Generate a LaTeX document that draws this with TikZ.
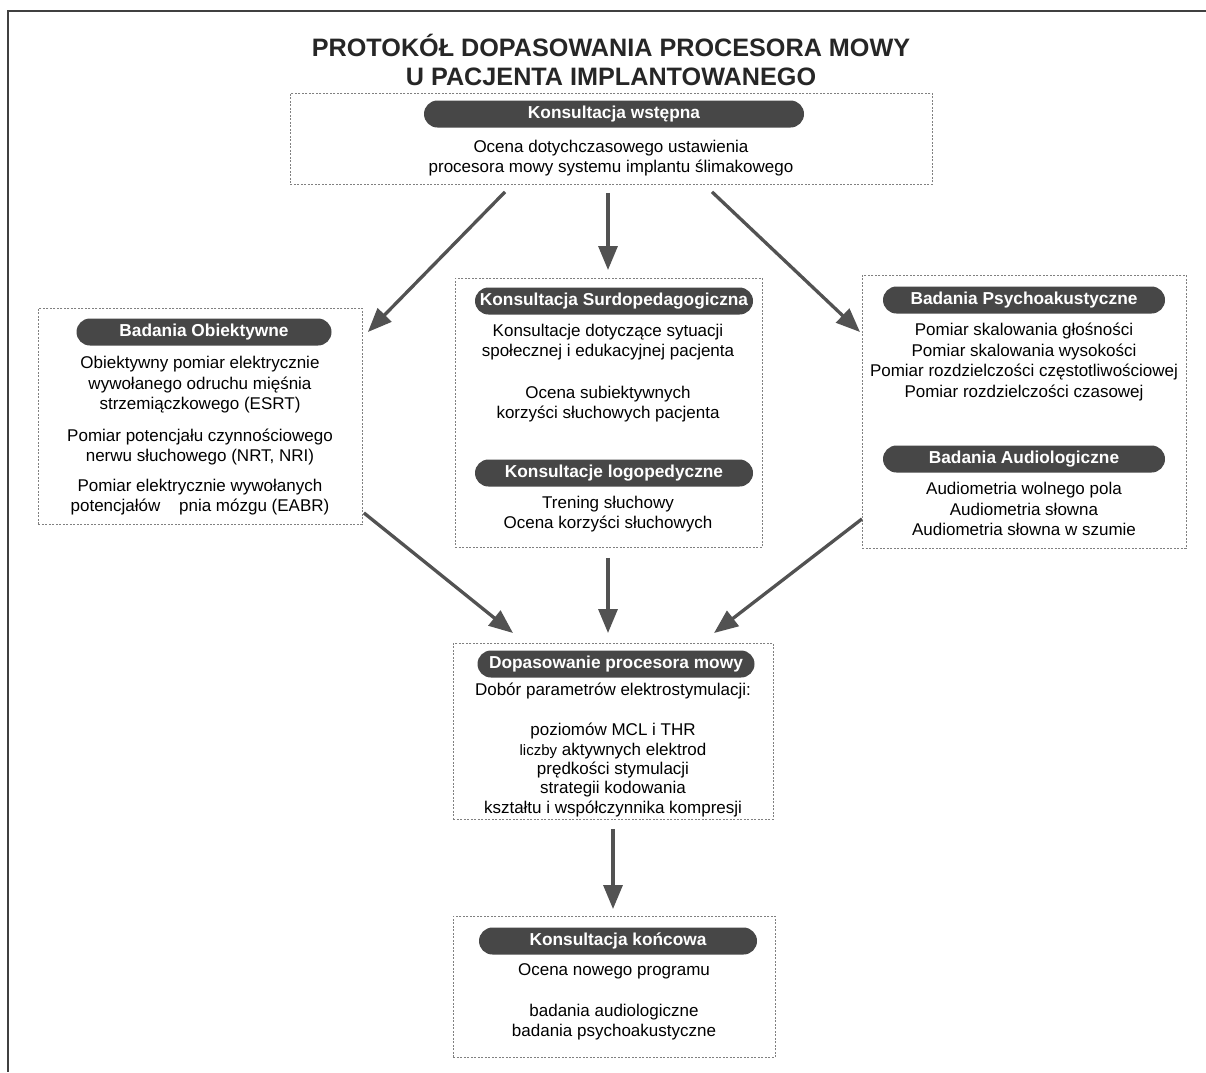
\documentclass[tikz,border=0pt]{standalone}
\usepackage{fontspec}
\setmainfont{Liberation Sans}
\usetikzlibrary{arrows.meta,calc}
\begin{document}
\begin{tikzpicture}[x=1pt,y=-1pt,
  box/.style={draw=black!50, dash pattern=on 2pt off 1.5pt, line width=0.9pt, fill=white, inner sep=0pt, anchor=north west},
  pill/.style={fill=black!72, text=white, font=\fontsize{17.3}{20}\selectfont\bfseries, rounded corners=13.5pt, minimum height=27pt, inner sep=0pt},
  txt/.style={font=\fontsize{17}{20.5}\selectfont, align=center, inner sep=0pt},
  ttl/.style={font=\fontsize{25.2}{28.5}\selectfont\bfseries, align=center, inner sep=0pt, text=black!85},
  arr/.style={draw=black!68, line width=3.3pt, -{Triangle[length=24pt,width=19pt]}},
  frame/.style={draw=black!75, line width=2pt},
]
\useasboundingbox (0,0) rectangle (1206,1072);

% outer frame (top and left edges visible)
\coordinate (fTL) at (8,11);
\coordinate (fTR) at (1206,11);
\coordinate (fBL) at (8,1072);
\draw[frame] (fTR) -- (fTL) -- (fBL);

% title
\node[ttl] (title) at (611,60) {PROTOKÓŁ DOPASOWANIA PROCESORA MOWY\\U PACJENTA IMPLANTOWANEGO};

% top box
\node[box, minimum width=642pt, minimum height=91pt] (b0) at (290,93) {};
\node[pill, minimum width=380pt] (p0) at (614,114) {Konsultacja wstępna};
\node[txt] (t0) at (611,158) {Ocena dotychczasowego ustawienia\\procesora mowy systemu implantu ślimakowego};

% left box
\node[box, minimum width=324pt, minimum height=216pt] (b1) at (38,308) {};
\node[pill, minimum width=255pt] (p1) at (204,332) {Badania Obiektywne};
\node[txt] (t1a) at (200,385) {Obiektywny pomiar elektrycznie\\wywołanego odruchu mięśnia\\strzemiączkowego (ESRT)};
\node[txt] (t1b) at (200,447) {Pomiar potencjału czynnościowego\\nerwu słuchowego (NRT, NRI)};
\node[txt] (t1c) at (200,497) {Pomiar elektrycznie wywołanych\\potencjałów\hspace{1.1em}pnia mózgu (EABR)};

% middle box
\node[box, minimum width=307pt, minimum height=269pt] (b2) at (455,278) {};
\node[pill, minimum width=278pt] (p2) at (614,301) {Konsultacja Surdopedagogiczna};
\node[txt] (t2a) at (608,342) {Konsultacje dotyczące sytuacji\\społecznej i edukacyjnej pacjenta};
\node[txt] (t2b) at (608,404) {Ocena subiektywnych\\korzyści słuchowych pacjenta};
\node[pill, minimum width=278pt] (p3) at (614,473) {Konsultacje logopedyczne};
\node[txt] (t2c) at (608,514) {Trening słuchowy\\Ocena korzyści słuchowych};

% right box
\node[box, minimum width=324pt, minimum height=273pt] (b3) at (862,275) {};
\node[pill, minimum width=282pt] (p4) at (1024,300) {Badania Psychoakustyczne};
\node[txt] (t3a) at (1024,362) {Pomiar skalowania głośności\\Pomiar skalowania wysokości\\Pomiar rozdzielczości częstotliwościowej\\Pomiar rozdzielczości czasowej};
\node[pill, minimum width=282pt] (p5) at (1024,459) {Badania Audiologiczne};
\node[txt] (t3b) at (1024,509) {Audiometria wolnego pola\\Audiometria słowna\\Audiometria słowna w szumie};

% fitting box
\node[box, minimum width=320pt, minimum height=176pt] (b4) at (453,643) {};
\node[pill, minimum width=277pt] (p6) at (616,664) {Dopasowanie procesora mowy};
\node[txt] (t4a) at (613,691) {Dobór parametrów elektrostymulacji:};
\node[txt, font=\fontsize{17}{19.3}\selectfont] (t4b) at (613,770) {poziomów MCL i THR\\{\fontsize{15}{19.3}\selectfont liczby} aktywnych elektrod\\prędkości stymulacji\\strategii kodowania\\kształtu i współczynnika kompresji};

% final box
\node[box, minimum width=322pt, minimum height=141pt] (b5) at (453,916) {};
\node[pill, minimum width=278pt] (p7) at (618,941) {Konsultacja końcowa};
\node[txt] (t5a) at (614,971) {Ocena nowego programu};
\node[txt] (t5b) at (614,1022) {badania audiologiczne\\badania psychoakustyczne};

% arrow end points
\coordinate (a1s) at ($(b0.south west)+(215,7)$);
\coordinate (a1e) at ($(b1.north east)+(5,24)$);
\coordinate (a2s) at ($(b0.south west)+(318,8)$);
\coordinate (a2e) at ($(b2.north west)+(153,-8)$);
\coordinate (a3s) at ($(b0.south west)+(422,7)$);
\coordinate (a3e) at ($(b3.north west)+(-2,57)$);
\coordinate (a4s) at ($(b1.south east)+(1,-12)$);
\coordinate (a4e) at ($(b4.north west)+(60,-10)$);
\coordinate (a5s) at ($(b2.south west)+(153,10)$);
\coordinate (a5e) at ($(b4.north west)+(155,-10)$);
\coordinate (a6s) at ($(b3.south west)+(0,-30)$);
\coordinate (a6e) at ($(b4.north west)+(261,-10)$);
\coordinate (a7s) at ($(b4.south west)+(160,9)$);
\coordinate (a7e) at ($(b5.north west)+(160,-7)$);

\draw[arr] (a1s) -- (a1e);
\draw[arr] (a2s) -- (a2e);
\draw[arr] (a3s) -- (a3e);
\draw[arr] (a4s) -- (a4e);
\draw[arr] (a5s) -- (a5e);
\draw[arr] (a6s) -- (a6e);
\draw[arr] (a7s) -- (a7e);
\end{tikzpicture}
\end{document}
